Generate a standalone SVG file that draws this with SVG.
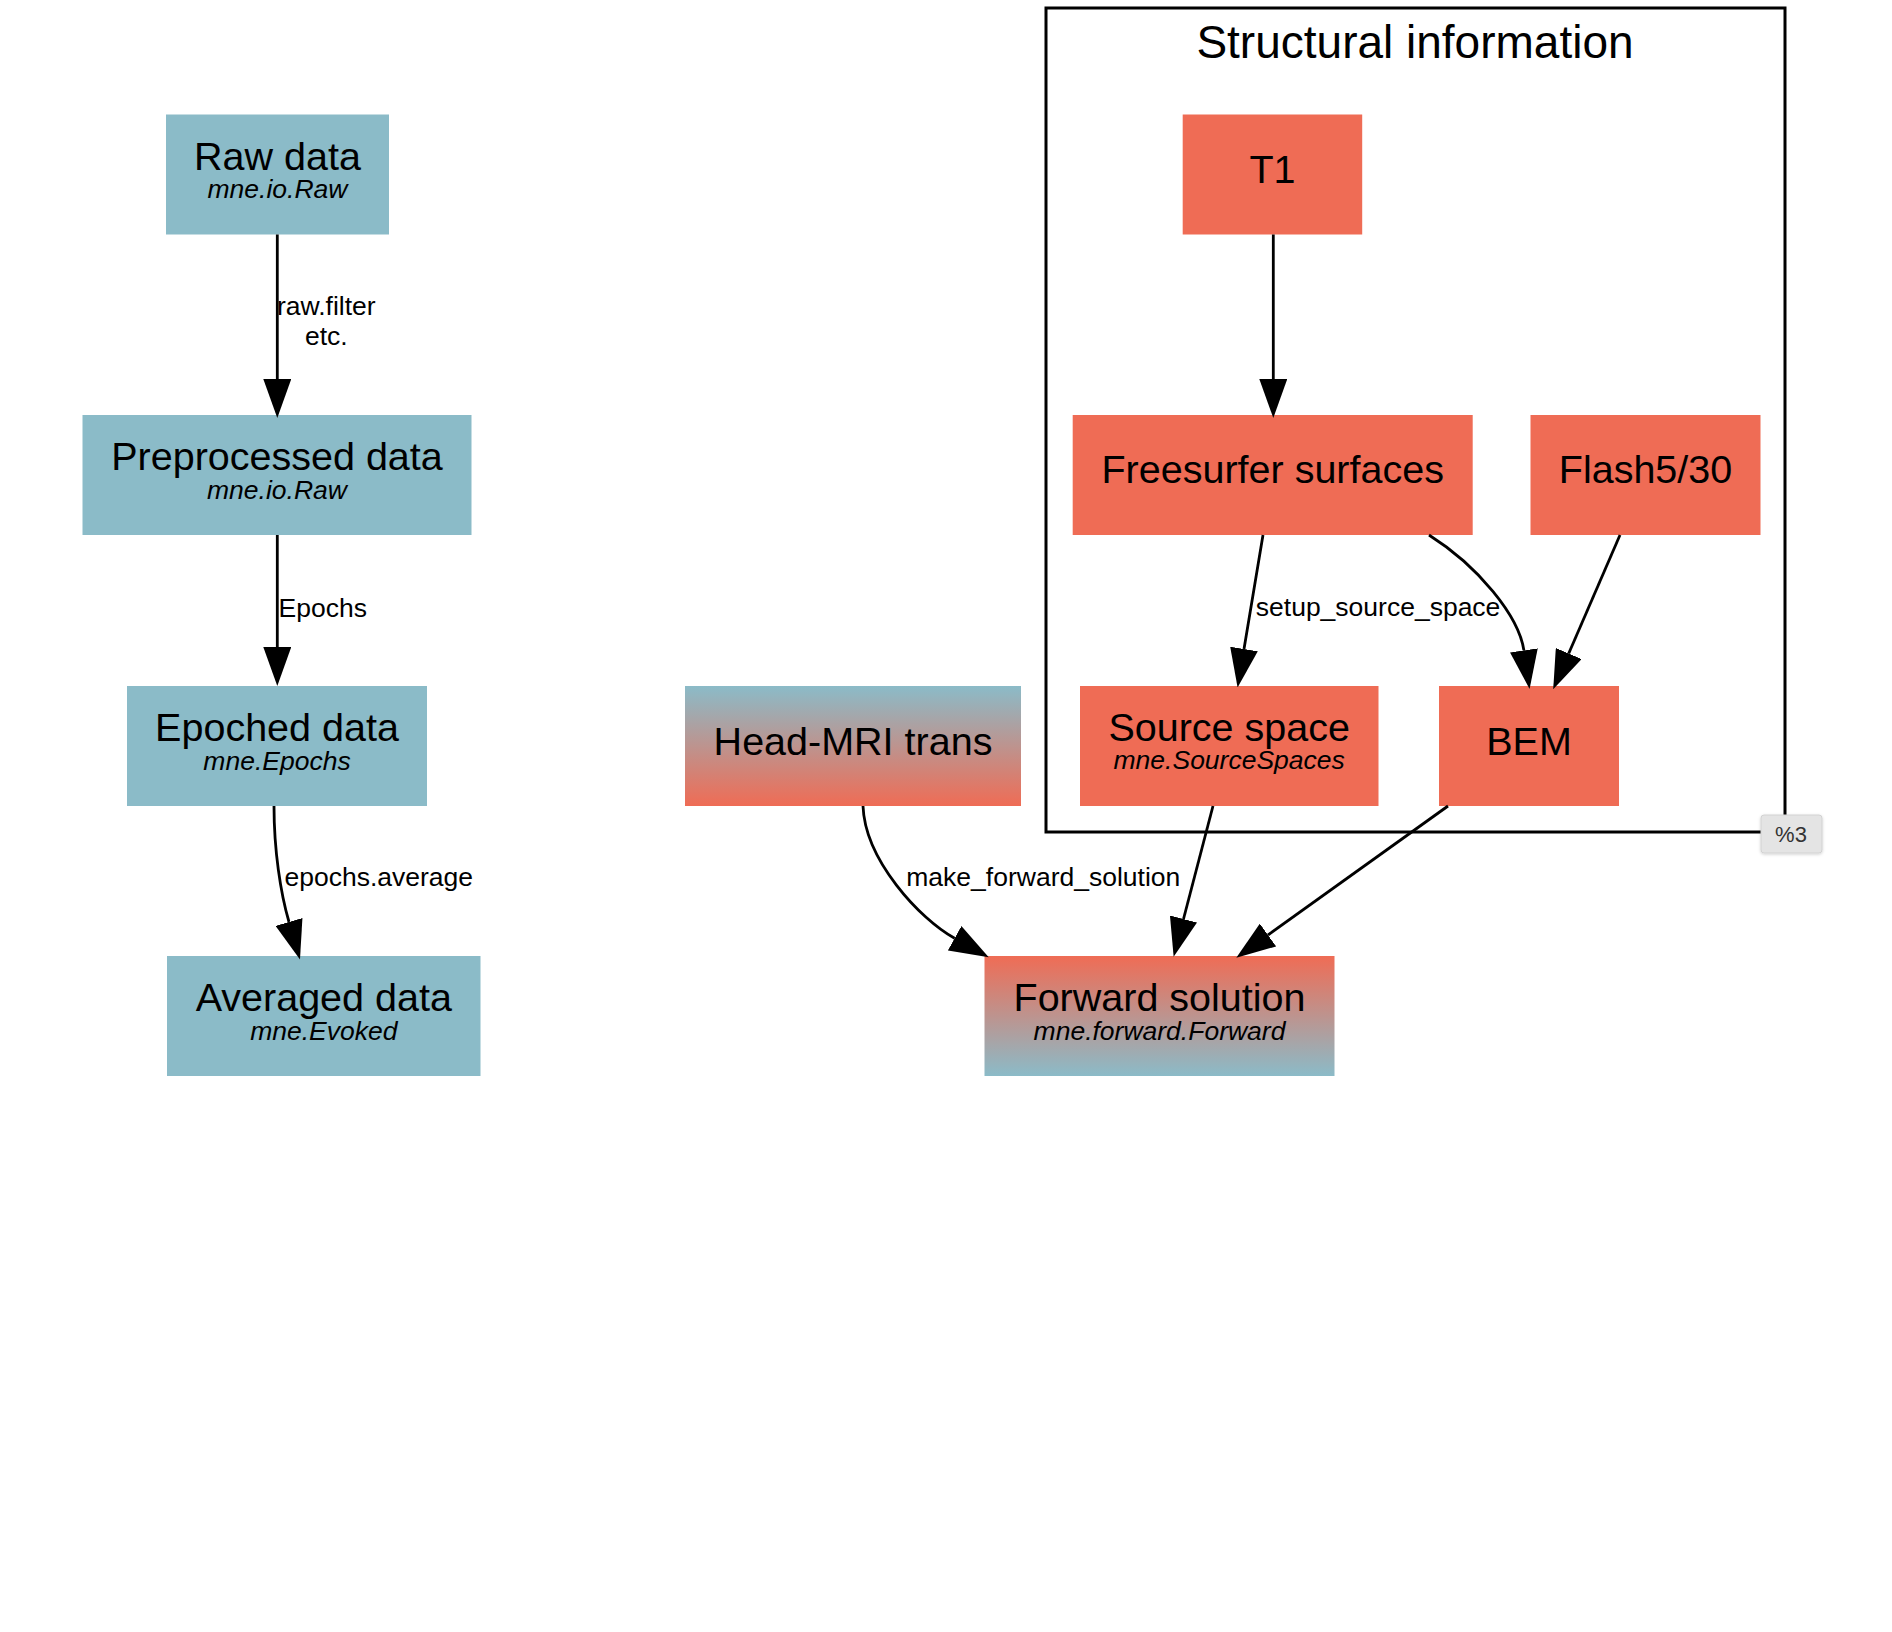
<svg xmlns="http://www.w3.org/2000/svg" width="1892" height="1632" viewBox="0 0 1892 1632">
  <style>
    .sensor { fill: #8bbbc8; }
    .source { fill: #ef6c55; }
    .main { font-family: "Liberation Sans", Arial, sans-serif; font-size: 39.5px; fill: #000; text-anchor: middle; }
    .sub { font-family: "Liberation Sans", Arial, sans-serif; font-size: 26.5px; font-style: italic; fill: #000; text-anchor: middle; }
    .elabel { font-family: "Liberation Sans", Arial, sans-serif; font-size: 26.5px; fill: #000; }
    .edge { fill: none; stroke: #000; stroke-width: 2.8; marker-end: url(#arrow); }
    .cluster { fill: none; stroke: #000; stroke-width: 3; }
    .title { font-family: "Liberation Sans", Arial, sans-serif; font-size: 46px; fill: #000; text-anchor: middle; }
  </style>
  <defs>
    <marker id="arrow" viewBox="0 0 39 28" refX="0" refY="14" markerWidth="39" markerHeight="28" markerUnits="userSpaceOnUse" orient="auto">
      <path d="M0,0 L39,14 L0,28 Z" fill="#000"/>
    </marker>
    <linearGradient id="blueToRed" x1="0" y1="0" x2="0" y2="1">
      <stop offset="0" stop-color="#8bbbc8"/>
      <stop offset="1" stop-color="#ef6c55"/>
    </linearGradient>
    <linearGradient id="redToBlue" x1="0" y1="0" x2="0" y2="1">
      <stop offset="0" stop-color="#ef6c55"/>
      <stop offset="1" stop-color="#8bbbc8"/>
    </linearGradient>
    <filter id="tipShadow" x="-20%" y="-20%" width="140%" height="160%">
      <feDropShadow dx="0" dy="1" stdDeviation="1.5" flood-color="#000" flood-opacity="0.18"/>
    </filter>
  </defs>

  <rect width="1892" height="1632" fill="#fff"/>

  <!-- Structural information cluster -->
  <g id="cluster_structural">
    <rect class="cluster" x="1046" y="8" width="739" height="824"/>
    <text class="title" x="1415" y="58">Structural information</text>
  </g>

  <!-- Sensor-space pipeline -->
  <g id="raw">
    <rect class="sensor" x="166" y="114.5" width="223" height="120"/>
    <text class="main" x="277.5" y="169.5">Raw data</text>
    <text class="sub" x="277.5" y="198">mne.io.Raw</text>
  </g>
  <g id="preprocessed">
    <rect class="sensor" x="82.5" y="415" width="389" height="120"/>
    <text class="main" x="277" y="470">Preprocessed data</text>
    <text class="sub" x="277" y="499">mne.io.Raw</text>
  </g>
  <g id="epochs">
    <rect class="sensor" x="127" y="686" width="300" height="120"/>
    <text class="main" x="277" y="741">Epoched data</text>
    <text class="sub" x="277" y="769.5">mne.Epochs</text>
  </g>
  <g id="evoked">
    <rect class="sensor" x="167" y="956" width="313.5" height="120"/>
    <text class="main" x="323.8" y="1011">Averaged data</text>
    <text class="sub" x="323.8" y="1039.5">mne.Evoked</text>
  </g>

  <!-- Mixed nodes -->
  <g id="trans">
    <rect x="685" y="686" width="336" height="120" fill="url(#blueToRed)"/>
    <text class="main" x="853" y="754.5">Head-MRI trans</text>
  </g>
  <g id="forward">
    <rect x="984.5" y="956" width="350" height="120" fill="url(#redToBlue)"/>
    <text class="main" x="1159.5" y="1011">Forward solution</text>
    <text class="sub" x="1159.5" y="1039.5">mne.forward.Forward</text>
  </g>

  <!-- Source-space nodes -->
  <g id="T1">
    <rect class="source" x="1182.7" y="114.5" width="179.5" height="120"/>
    <text class="main" x="1272.5" y="183">T1</text>
  </g>
  <g id="surfaces">
    <rect class="source" x="1072.7" y="415" width="400" height="120"/>
    <text class="main" x="1272.7" y="483">Freesurfer surfaces</text>
  </g>
  <g id="flash">
    <rect class="source" x="1530.5" y="415" width="230" height="120"/>
    <text class="main" x="1645.5" y="483">Flash5/30</text>
  </g>
  <g id="src">
    <rect class="source" x="1080" y="686" width="298.5" height="120"/>
    <text class="main" x="1229.2" y="740.5">Source space</text>
    <text class="sub" x="1229.2" y="769">mne.SourceSpaces</text>
  </g>
  <g id="bem">
    <rect class="source" x="1439" y="686" width="180" height="120"/>
    <text class="main" x="1529" y="754.5">BEM</text>
  </g>

  <!-- Connectors -->
  <g id="edges">
    <path class="edge" d="M277.3,234.5 L277.3,379"/>
    <text class="elabel" x="326.3" y="315" text-anchor="middle">raw.filter</text>
    <text class="elabel" x="326.3" y="345" text-anchor="middle">etc.</text>

    <path class="edge" d="M277.3,535 L277.3,647"/>
    <text class="elabel" x="278.5" y="616.5">Epochs</text>

    <path class="edge" d="M274,806 C274,850 280.5,893 289,922"/>
    <text class="elabel" x="284.5" y="885.5">epochs.average</text>

    <path class="edge" d="M863,806 C865,860 919.6,918.9 954.6,938.3"/>
    <text class="elabel" x="906.3" y="886">make_forward_solution</text>

    <path class="edge" d="M1213,806 L1183.5,919"/>
    <path class="edge" d="M1448,806 L1268,935"/>

    <path class="edge" d="M1273.3,234.5 L1273.3,379"/>

    <path class="edge" d="M1263,535 L1244,649"/>
    <text class="elabel" x="1255.8" y="616">setup_source_space</text>

    <path class="edge" d="M1429,535 C1478,566 1518.8,615.8 1523.9,650.4"/>
    <path class="edge" d="M1620,535 L1568.7,653.5"/>
  </g>

  <!-- Title tooltip -->
  <g id="tooltip">
    <rect x="1761" y="815" width="61" height="38" rx="3" fill="#e4e4e4" stroke="#d2d2d2" stroke-width="1" filter="url(#tipShadow)"/>
    <text x="1791" y="842" font-family="'Liberation Sans', Arial, sans-serif" font-size="22" fill="#333" text-anchor="middle">%3</text>
  </g>
</svg>
